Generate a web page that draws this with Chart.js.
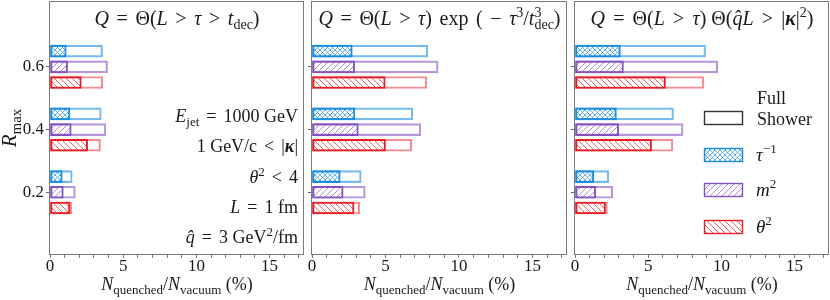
<!DOCTYPE html>
<html>
<head>
<meta charset="utf-8">
<script src="https://cdn.jsdelivr.net/npm/chart.js@4"></script>
<style>
  body { margin: 0; background: #fff; }
  #wrap { position: relative; width: 830px; height: 300px; }
  #wrap canvas { position: absolute; left: 0; top: 0; }
</style>
</head>
<body>
<div id="wrap">
  <canvas id="c1" width="830" height="300"></canvas>
  <canvas id="c2" width="830" height="300"></canvas>
  <canvas id="c3" width="830" height="300"></canvas>
</div>
<script>
'use strict';

// categories (R_max) and axis ticks
var rMax = [0.2, 0.4, 0.6];
var xTicks = [0, 5, 10, 15];
var xMax = 17.35;
var yMax = 0.81;

// panel 1: Q = Θ(L > τ > t_dec)
var p1FullTau = [1.52, 3.50, 3.59];
var p1QuenTau = [0.84, 1.36, 1.11];
var p1FullM2 = [1.73, 3.82, 3.93];
var p1QuenM2 = [0.91, 1.45, 1.20];
var p1FullTheta = [1.48, 3.45, 3.60];
var p1QuenTheta = [1.36, 2.57, 2.14];

// panel 2: Q = Θ(L > τ) exp(-τ³/t³_dec)
var p2FullTau = [3.35, 6.86, 7.88];
var p2QuenTau = [1.92, 2.92, 2.74];
var p2FullM2 = [3.62, 7.40, 8.58];
var p2QuenM2 = [2.12, 3.15, 2.90];
var p2FullTheta = [3.25, 6.79, 7.81];
var p2QuenTheta = [2.86, 5.00, 4.98];

// panel 3: Q = Θ(L > τ) Θ(q̂L > |κ|²)
var p3FullTau = [2.31, 6.73, 8.92];
var p3QuenTau = [1.28, 2.83, 3.10];
var p3FullM2 = [2.58, 7.38, 9.75];
var p3QuenM2 = [1.42, 2.99, 3.31];
var p3FullTheta = [2.21, 6.69, 8.81];
var p3QuenTheta = [2.08, 5.23, 6.18];

var obs = ['tau', 'm2', 'theta'];
var offsets = [0.05, 0, -0.05];

var colors = { tau: '#1b8de0', m2: '#8550c0', theta: '#e91c24' };
var fullColors = { tau: 'rgba(27,141,224,0.6)', m2: 'rgba(133,80,192,0.6)', theta: 'rgba(233,28,36,0.5)' };
var hatchColors = { tau: 'rgba(27,141,224,0.75)', m2: 'rgba(133,80,192,0.75)', theta: 'rgba(233,28,36,0.8)' };
var textColor = '#1a1a1a';
var frameColor = '#7a7a7a';
var serif = '"Liberation Serif", "DejaVu Serif", serif';

function makeHatch(color, kind) {
  var s = kind === 'x' ? 5 : 6;
  var c = document.createElement('canvas');
  c.width = s; c.height = s;
  var g = c.getContext('2d');
  g.strokeStyle = color;
  g.lineWidth = 0.9;
  g.beginPath();
  if (kind === 'x' || kind === '/') {
    g.moveTo(-1, s + 1); g.lineTo(s + 1, -1);
    g.moveTo(-1, 1); g.lineTo(1, -1);
    g.moveTo(s - 1, s + 1); g.lineTo(s + 1, s - 1);
  }
  if (kind === 'x' || kind === '\\') {
    g.moveTo(-1, -1); g.lineTo(s + 1, s + 1);
    g.moveTo(s - 1, -1); g.lineTo(s + 1, 1);
    g.moveTo(-1, s - 1); g.lineTo(1, s + 1);
  }
  g.stroke();
  return g.createPattern(c, 'repeat');
}

var patterns = {
  tau: makeHatch(hatchColors.tau, 'x'),
  m2: makeHatch(hatchColors.m2, '/'),
  theta: makeHatch(hatchColors.theta, '\\')
};

function fontOf(s, size) {
  var sz = (s.sub || s.sup) ? Math.round(size * 0.7) : size;
  return (s.i ? 'italic ' : '') + (s.b ? 'bold ' : '') + sz + 'px ' + serif;
}

// {g: 1} segments are math spaces, their size is given by gap
function measure(ctx, segs, size) {
  var w = 0, n = 0;
  segs.forEach(function (s) {
    if (s.g) { n++; return; }
    ctx.font = fontOf(s, size);
    if (!s.back) w += ctx.measureText(s.t).width;
  });
  return { w: w, n: n };
}

function drawRich(ctx, segs, x, y, size, align, gap, target) {
  var m = measure(ctx, segs, size);
  if (target && m.n) gap = (target - m.w) / m.n;
  gap = gap || 0;
  var w = m.w + m.n * gap;
  var cx = align === 'right' ? x - w : align === 'center' ? x - w / 2 : x;
  ctx.fillStyle = textColor;
  ctx.textBaseline = 'alphabetic';
  ctx.textAlign = 'left';
  segs.forEach(function (s) {
    if (s.g) { cx += gap; return; }
    ctx.font = fontOf(s, size);
    var dy = s.sub ? size * 0.22 : s.sup ? -size * 0.4 : 0;
    ctx.fillText(s.t, cx, y + dy);
    if (!s.back) cx += ctx.measureText(s.t).width;
  });
}

var G = { g: 1 };

var xLabel = [
  { t: 'N', i: 1 }, { t: 'quenched', sub: 1 }, { t: '/' },
  { t: 'N', i: 1 }, { t: 'vacuum', sub: 1 }, { t: ' (%)' }
];

var titles = [
  [{ t: 'Q', i: 1 }, G, { t: '=' }, G, { t: 'Θ(' }, { t: 'L', i: 1 }, G, { t: '>' }, G, { t: 'τ', i: 1 },
   G, { t: '>' }, G, { t: 't', i: 1 }, { t: 'dec', sub: 1 }, { t: ')' }],
  [{ t: 'Q', i: 1 }, G, { t: '=' }, G, { t: 'Θ(' }, { t: 'L', i: 1 }, G, { t: '>' }, G, { t: 'τ', i: 1 },
   { t: ')' }, G, { t: 'exp' }, G, { t: '(' }, G, { t: '−' }, G, { t: 'τ', i: 1 }, { t: '3', sup: 1 },
   { t: '/' }, { t: 't', i: 1 }, { t: '3', sup: 1, back: 1 }, { t: 'dec', sub: 1 }, { t: ')' }],
  [{ t: 'Q', i: 1 }, G, { t: '=' }, G, { t: 'Θ(' }, { t: 'L', i: 1 }, G, { t: '>' }, G, { t: 'τ', i: 1 },
   { t: ') Θ(' }, { t: 'q\u0302L', i: 1 }, G, { t: '>' }, G, { t: '|' }, { t: 'κ', i: 1, b: 1 }, { t: '|' },
   { t: '2', sup: 1 }, { t: ')' }]
];
var titleWidth = [165, 242, 223];

var notes = [
  [{ t: 'E', i: 1 }, { t: 'jet', sub: 1 }, G, { t: '=' }, G, { t: '1000 GeV' }],
  [{ t: '1 GeV/c' }, G, { t: '<' }, G, { t: '|' }, { t: 'κ', i: 1, b: 1 }, { t: '|' }],
  [{ t: 'θ', i: 1 }, { t: '2', sup: 1 }, G, { t: '<' }, G, { t: '4' }],
  [{ t: 'L', i: 1 }, G, { t: '=' }, G, { t: '1 fm' }],
  [{ t: 'q\u0302', i: 1 }, G, { t: '=' }, G, { t: '3 GeV' }, { t: '2', sup: 1 }, { t: '/fm' }]
];
var noteBase = [122, 152, 183, 213, 243];

var legendItems = [
  { key: null, y: 111, label: null },
  { key: 'tau', y: 148, label: [{ t: 'τ', i: 1 }, { t: '−1', sup: 1 }] },
  { key: 'm2', y: 183, label: [{ t: 'm', i: 1 }, { t: '2', sup: 1 }] },
  { key: 'theta', y: 220, label: [{ t: 'θ', i: 1 }, { t: '2', sup: 1 }] }
];

function drawLegend(ctx) {
  legendItems.forEach(function (it) {
    ctx.lineWidth = 1.4;
    if (it.key) {
      ctx.fillStyle = patterns[it.key];
      ctx.fillRect(704, it.y, 39, 14);
      ctx.strokeStyle = colors[it.key];
    } else {
      ctx.strokeStyle = '#333';
    }
    ctx.strokeRect(704.5, it.y + 0.5, 38, 13);
    if (it.label) drawRich(ctx, it.label, 756, it.y + 13, 19, 'left');
  });
  drawRich(ctx, [{ t: 'Full' }], 757, 104, 18, 'left');
  drawRich(ctx, [{ t: 'Shower' }], 757, 125, 18, 'left');
}

var decoPlugin = {
  id: 'deco',
  afterDraw: function (chart, args, opts) {
    var ctx = chart.ctx;
    var a = chart.chartArea;
    var p = opts.panel;
    ctx.save();
    ctx.strokeStyle = frameColor;
    ctx.lineWidth = 1;
    ctx.strokeRect(a.left - 0.5, a.top + 0.5, a.right - a.left, a.bottom - a.top - 1);
    var mid = (a.left + a.right) / 2;
    drawRich(ctx, titles[p], mid, 25, 20, 'center', 0, titleWidth[p]);
    drawRich(ctx, xLabel, mid, 290, 18, 'center');
    if (p === 0) {
      notes.forEach(function (n, i) {
        drawRich(ctx, n, 298, noteBase[i], 18, 'right', 7);
      });
      ctx.translate(16, 128);
      ctx.rotate(-Math.PI / 2);
      drawRich(ctx, [{ t: 'R', i: 1 }, { t: 'max', sub: 1 }], 0, 0, 21, 'center');
    }
    if (p === 2) drawLegend(ctx);
    ctx.restore();
  }
};

function points(values, off) {
  return values.map(function (v, i) {
    return { x: v, y: rMax[i] + off };
  });
}

function makeChart(id, p, series, padLeft, padRight, yWidth) {
  var datasets = [];
  obs.forEach(function (k, j) {
    datasets.push({
      label: k + ' quenched',
      data: points(series[k][1], offsets[j]),
      backgroundColor: patterns[k],
      borderColor: colors[k],
      borderWidth: 1.3,
      borderSkipped: false,
      grouped: false,
      barThickness: 12,
      order: 0
    });
    datasets.push({
      label: k + ' full shower',
      data: points(series[k][0], offsets[j]),
      backgroundColor: 'rgba(255,255,255,0)',
      borderColor: fullColors[k],
      borderWidth: 1.5,
      borderSkipped: false,
      grouped: false,
      barThickness: 12,
      order: 1
    });
  });

  var minor = [];
  for (var v = 0; v <= 17; v++) minor.push({ value: v });

  return new Chart(document.getElementById(id), {
    type: 'bar',
    data: { datasets: datasets },
    options: {
      indexAxis: 'y',
      responsive: false,
      animation: false,
      events: [],
      layout: { padding: { left: padLeft, right: padRight, top: 1, bottom: 0 } },
      plugins: {
        legend: { display: false },
        tooltip: { enabled: false },
        deco: { panel: p }
      },
      scales: {
        x: {
          type: 'linear',
          min: 0,
          max: xMax,
          afterFit: function (s) { s.height = 45; s.paddingLeft = 0; s.paddingRight = 0; },
          afterBuildTicks: function (s) { s.ticks = minor.slice(); },
          ticks: {
            autoSkip: false,
            maxRotation: 0,
            padding: -2,
            color: textColor,
            font: { family: serif, size: 17 },
            callback: function (val) { return xTicks.indexOf(val) >= 0 ? String(val) : ''; }
          },
          grid: { drawOnChartArea: false, tickLength: 3, tickColor: '#777' },
          border: { display: false }
        },
        y: {
          type: 'linear',
          offset: false,
          min: 0,
          max: yMax,
          afterFit: function (s) { s.width = yWidth; s.paddingTop = 0; s.paddingBottom = 0; },
          afterBuildTicks: function (s) {
            s.ticks = rMax.map(function (r) { return { value: r }; });
          },
          ticks: {
            padding: 2,
            color: textColor,
            font: { family: serif, size: 17 },
            callback: function (val) { return p === 0 ? val.toFixed(1) : ''; }
          },
          grid: { drawOnChartArea: false, offset: false, tickLength: 4, tickColor: '#666' },
          border: { display: false }
        }
      }
    },
    plugins: [decoPlugin]
  });
}

makeChart('c1', 0, {
  tau: [p1FullTau, p1QuenTau], m2: [p1FullM2, p1QuenM2], theta: [p1FullTheta, p1QuenTheta]
}, 0, 526, 50);
makeChart('c2', 1, {
  tau: [p2FullTau, p2QuenTau], m2: [p2FullM2, p2QuenM2], theta: [p2FullTheta, p2QuenTheta]
}, 304, 263, 8);
makeChart('c3', 2, {
  tau: [p3FullTau, p3QuenTau], m2: [p3FullM2, p3QuenM2], theta: [p3FullTheta, p3QuenTheta]
}, 567, 1, 8);
</script>
</body>
</html>
